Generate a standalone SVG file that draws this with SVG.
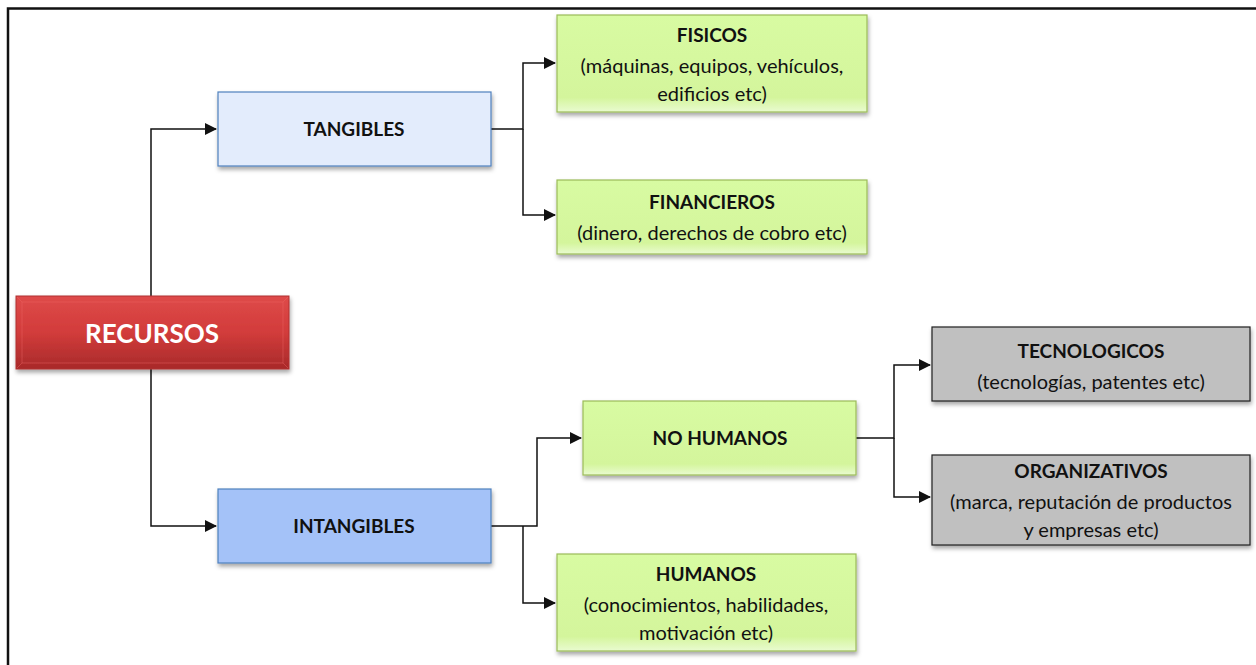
<svg xmlns="http://www.w3.org/2000/svg" width="1256" height="665" viewBox="0 0 1256 665">
<style>
.t{font-family:Lato,"Liberation Sans",sans-serif;font-size:20px;fill:#111;text-anchor:middle}
.b{font-weight:bold;font-size:19px}
.c{fill:none;stroke:#111;stroke-width:1.5}
.green{fill:url(#gg);stroke:#9bbb59;stroke-width:1.2}
.grey{fill:#c0c0c0;stroke:#222;stroke-width:1.2}
</style>
<defs>
<marker id="ar" markerWidth="12" markerHeight="12" refX="11" refY="6" orient="auto" markerUnits="userSpaceOnUse">
<path d="M0,0 L12,6 L0,12 z" fill="#111"/>
</marker>
<filter id="sh" x="-10%" y="-10%" width="125%" height="135%">
<feDropShadow dx="1" dy="3" stdDeviation="2" flood-color="#000" flood-opacity="0.35"/>
</filter>
<linearGradient id="rg" x1="0" y1="0" x2="0" y2="1">
<stop offset="0" stop-color="#de4a49"/>
<stop offset="0.5" stop-color="#d23c3b"/>
<stop offset="1" stop-color="#a82a2a"/>
</linearGradient>
<linearGradient id="gg" x1="0" y1="0" x2="0" y2="1">
<stop offset="0" stop-color="#d8fba2"/>
<stop offset="0.85" stop-color="#d4f59c"/>
<stop offset="1" stop-color="#e9fbd0"/>
</linearGradient>
</defs>
<rect x="0" y="0" width="1256" height="665" fill="#fff"/>
<path d="M8,665 V8.5 H1256" fill="none" stroke="#111" stroke-width="2.5"/>
<g id="connectors">
<path class="c" d="M151,296 V129 H216" marker-end="url(#ar)"/>
<path class="c" d="M151,369 V526 H216" marker-end="url(#ar)"/>
<path class="c" d="M491,129 H523 V63 H555" marker-end="url(#ar)"/>
<path class="c" d="M523,129 V215 H555" marker-end="url(#ar)"/>
<path class="c" d="M491,526 H537 V438 H581" marker-end="url(#ar)"/>
<path class="c" d="M523,526 V603 H555" marker-end="url(#ar)"/>
<path class="c" d="M856,438 H894 V365 H930" marker-end="url(#ar)"/>
<path class="c" d="M894,438 V497 H930" marker-end="url(#ar)"/>
</g>
<g id="recursos">
<rect x="16" y="296" width="273" height="73" fill="url(#rg)" stroke="#b03030" stroke-width="1" filter="url(#sh)"/>
<path d="M17,297 L22,302 H283 L288,297 M17,368 L22,363 H283 L288,368 M22,302 V363 M283,302 V363" fill="none" stroke="#f06a68" stroke-width="0.8" opacity="0.5"/>
<text x="152" y="343" style="font-family:Lato,'Liberation Sans',sans-serif;font-size:26px;font-weight:bold;fill:#fff;text-anchor:middle">RECURSOS</text>
</g>
<g id="tangibles">
<rect x="218" y="92" width="273" height="74" fill="#e3ecfc" stroke="#4f81bd" stroke-width="1.2" filter="url(#sh)"/>
<text class="t b" x="354" y="136">TANGIBLES</text>
</g>
<g id="intangibles">
<rect x="218" y="489" width="273" height="74" fill="#a4c2f8" stroke="#4f81bd" stroke-width="1.2" filter="url(#sh)"/>
<text class="t b" x="354" y="533">INTANGIBLES</text>
</g>
<g id="fisicos">
<rect class="green" x="557" y="15" width="310" height="97" filter="url(#sh)"/>
<text class="t b" x="712" y="42">FISICOS</text>
<text class="t" x="712" y="73">(máquinas, equipos, vehículos,</text>
<text class="t" x="712" y="101">edificios etc)</text>
</g>
<g id="financieros">
<rect class="green" x="557" y="180" width="310" height="74" filter="url(#sh)"/>
<text class="t b" x="712" y="209">FINANCIEROS</text>
<text class="t" x="712" y="240">(dinero, derechos de cobro etc)</text>
</g>
<g id="nohumanos">
<rect class="green" x="583" y="401" width="273" height="74" filter="url(#sh)"/>
<text class="t b" x="720" y="445">NO HUMANOS</text>
</g>
<g id="humanos">
<rect class="green" x="557" y="554" width="299" height="97" filter="url(#sh)"/>
<text class="t b" x="706" y="581">HUMANOS</text>
<text class="t" x="706" y="612">(conocimientos, habilidades,</text>
<text class="t" x="706" y="640">motivación etc)</text>
</g>
<g id="tecnologicos">
<rect class="grey" x="932" y="327" width="318" height="74" filter="url(#sh)"/>
<text class="t b" x="1091" y="358">TECNOLOGICOS</text>
<text class="t" x="1091" y="389">(tecnologías, patentes etc)</text>
</g>
<g id="organizativos">
<rect class="grey" x="932" y="455" width="318" height="90" filter="url(#sh)"/>
<text class="t b" x="1091" y="478">ORGANIZATIVOS</text>
<text class="t" x="1091" y="509">(marca, reputación de productos</text>
<text class="t" x="1091" y="537">y empresas etc)</text>
</g>
</svg>
